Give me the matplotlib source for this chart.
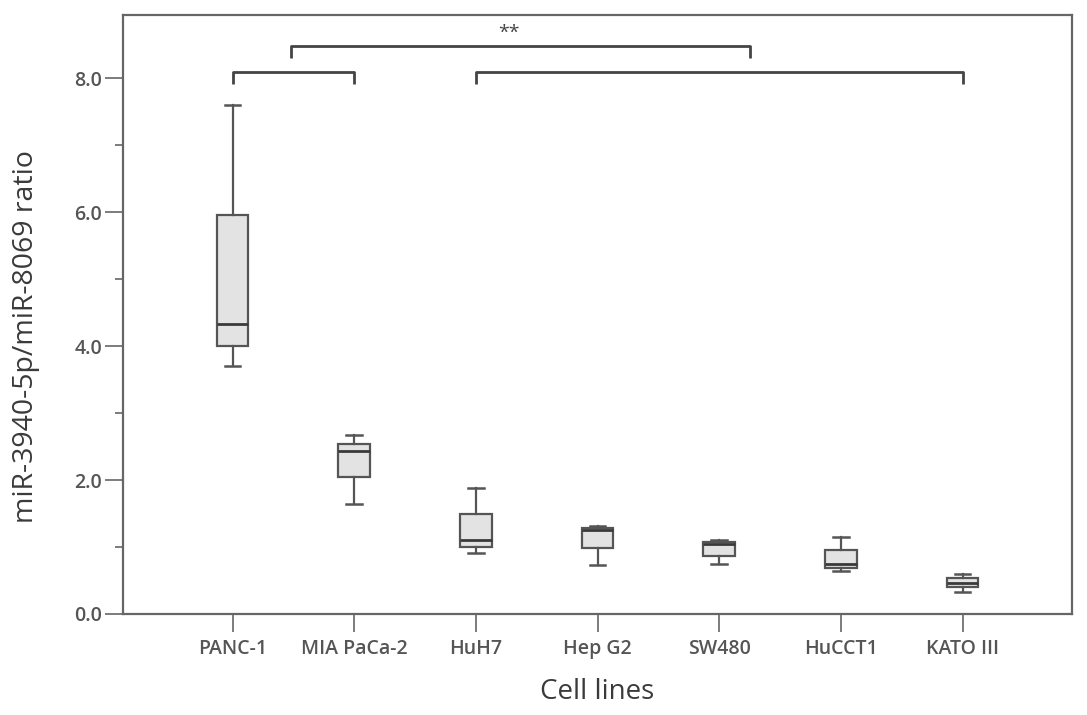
import matplotlib.pyplot as plt
import numpy as np
from matplotlib.ticker import MultipleLocator

plt.rcParams['font.family'] = ['Open Sans', 'DejaVu Sans']

cell_lines = ['PANC-1', 'MIA PaCa-2', 'HuH7', 'Hep G2', 'SW480', 'HuCCT1', 'KATO III']
whisker_low = [3.71, 1.65, 0.91, 0.73, 0.75, 0.64, 0.33]
q1 = [4.01, 2.04, 1.00, 0.98, 0.87, 0.68, 0.405]
median = [4.33, 2.43, 1.10, 1.25, 1.05, 0.75, 0.47]
q3 = [5.96, 2.54, 1.49, 1.28, 1.07, 0.95, 0.53]
whisker_high = [7.61, 2.67, 1.88, 1.32, 1.10, 1.15, 0.59]

# significance brackets: (x start, x end, height, drop)
brackets = [(0, 1, 8.09, 0.18), (2, 6, 8.09, 0.18), (0.48, 4.25, 8.49, 0.18)]
star_x, star_y = 2.27, 8.68

line_col = '#555555'

stats = []
for i, name in enumerate(cell_lines):
    stats.append(dict(label=name, whislo=whisker_low[i], q1=q1[i], med=median[i],
                      q3=q3[i], whishi=whisker_high[i], fliers=[]))

fig = plt.figure(figsize=(10.87, 7.15), dpi=100)
ax = fig.add_axes([0.1132, 0.1413, 0.873, 0.838])

pos = np.arange(len(cell_lines))
ax.bxp(stats, positions=pos, widths=0.26, patch_artist=True,
       boxprops=dict(facecolor='#e3e3e3', edgecolor=line_col, linewidth=1.6),
       medianprops=dict(color='#3a3a3a', linewidth=2),
       whiskerprops=dict(color=line_col, linewidth=1.6),
       capprops=dict(color=line_col, linewidth=1.8))

for x0, x1, h, d in brackets:
    ax.plot([x0, x0, x1, x1], [h - d, h, h, h - d], color='#444444', lw=2, solid_capstyle='butt',
            clip_on=False)
ax.text(star_x, star_y, '**', ha='center', va='center', fontsize=14, color='#444444')

ax.set_xlim(-0.9, 6.9)
ax.set_ylim(0, 8.95)
ax.set_xticks(pos)
ax.set_xticklabels(cell_lines)
ax.yaxis.set_major_locator(MultipleLocator(2))
ax.yaxis.set_minor_locator(MultipleLocator(1))
ax.yaxis.set_major_formatter(plt.FormatStrFormatter('%.1f'))

for s in ax.spines.values():
    s.set_color('#666666')
    s.set_linewidth(1.6)

ax.tick_params(axis='x', length=13, width=1.2, color='#666666', labelsize=14,
               labelcolor='#555555', pad=5)
ax.tick_params(axis='y', which='major', length=13, width=1.2, color='#666666',
               labelsize=14, labelcolor='#555555', pad=2)
ax.tick_params(axis='y', which='minor', length=6, width=1.2, color='#666666')
for lab in ax.get_xticklabels() + ax.get_yticklabels():
    lab.set_fontweight('semibold')

ax.set_xlabel('Cell lines', fontsize=20, color='#3a3a3a', labelpad=14)
ax.set_ylabel('miR-3940-5p/miR-8069 ratio', fontsize=20.5, color='#3a3a3a')
ax.yaxis.set_label_coords(-0.087, 0.463)

fig.savefig('out.png', dpi=100)
